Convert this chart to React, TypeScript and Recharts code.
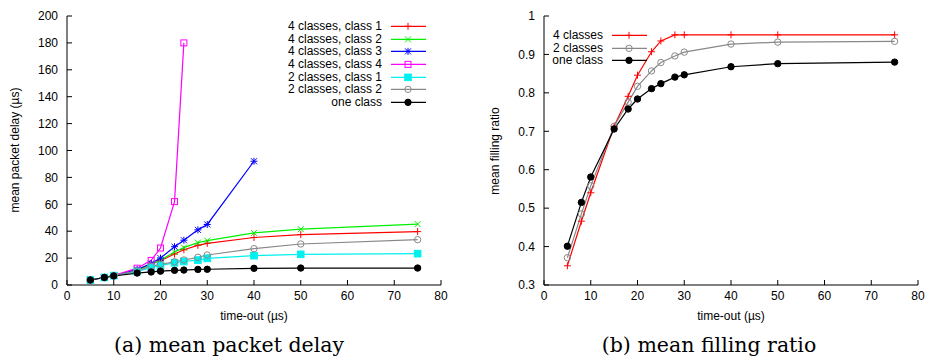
import React from "react";
import { Legend, Line, LineChart, XAxis, YAxis } from "recharts";

const FONT = "'Liberation Sans', Arial, Helvetica, sans-serif";

const timeouts = [5, 8, 10, 15, 18, 20, 23, 25, 28, 30, 40, 50, 75];
const xTicks = [0, 10, 20, 30, 40, 50, 60, 70, 80];
const delayTicks = [0, 20, 40, 60, 80, 100, 120, 140, 160, 180, 200];
const ratioTicks = [0.3, 0.4, 0.5, 0.6, 0.7, 0.8, 0.9, 1];

// mean packet delay (µs)
const delay4c1 = [3.7, 5.6, 7, 11, 15.5, 18, 23, 26.2, 29.5, 31, 35.3, 37.5, 39.7];
const delay4c2 = [3.7, 5.6, 7, 11, 15.5, 18.5, 24.5, 27.8, 31.5, 33, 38.7, 41.5, 45.3];
const delay4c3 = [3.7, 5.6, 7, 11.5, 16, 20, 28.5, 33.3, 41, 45, 92];
const delay4c4 = [3.7, 5.6, 7, 12.5, 18.3, 27.5, 62, 180];
const delay2c1 = [3.7, 5.6, 7, 10, 13, 14.5, 16.5, 17.5, 18.5, 19.8, 21.8, 22.8, 23.3];
const delay2c2 = [3.7, 5.6, 7, 10.5, 14, 15.4, 17.3, 18.6, 20.6, 22.3, 27, 30.5, 33.7];
const delay1 = [3.7, 5.6, 6.7, 8.9, 9.7, 10.3, 10.9, 11.1, 11.6, 11.7, 12.4, 12.6, 12.6];

// mean filling ratio
const ratio4 = [0.35, 0.466, 0.54, 0.713, 0.791, 0.846, 0.907, 0.935, 0.951, 0.951, 0.951, 0.951, 0.951];
const ratio2 = [0.371, 0.485, 0.558, 0.713, 0.776, 0.817, 0.857, 0.879, 0.896, 0.906, 0.927, 0.932, 0.934];
const ratio1 = [0.401, 0.515, 0.581, 0.706, 0.758, 0.784, 0.811, 0.824, 0.841, 0.847, 0.868, 0.876, 0.88];

type MarkerKind = "plus" | "cross" | "star" | "square" | "fsquare" | "circle" | "fcircle";
type Series = { key: string; name: string; color: string; marker: MarkerKind; values: number[] };

const delaySeries: Series[] = [
  { key: "c41", name: "4 classes, class 1", color: "#ff0000", marker: "plus", values: delay4c1 },
  { key: "c42", name: "4 classes, class 2", color: "#00f000", marker: "cross", values: delay4c2 },
  { key: "c43", name: "4 classes, class 3", color: "#0000ff", marker: "star", values: delay4c3 },
  { key: "c44", name: "4 classes, class 4", color: "#ff00ff", marker: "square", values: delay4c4 },
  { key: "c21", name: "2 classes, class 1", color: "#00f0f0", marker: "fsquare", values: delay2c1 },
  { key: "c22", name: "2 classes, class 2", color: "#888888", marker: "circle", values: delay2c2 },
  { key: "c1", name: "one class", color: "#000000", marker: "fcircle", values: delay1 },
];

const ratioSeries: Series[] = [
  { key: "r4", name: "4 classes", color: "#ff0000", marker: "plus", values: ratio4 },
  { key: "r2", name: "2 classes", color: "#888888", marker: "circle", values: ratio2 },
  { key: "r1", name: "one class", color: "#000000", marker: "fcircle", values: ratio1 },
];

function toRows(series: Series[]) {
  return timeouts.map((t, i) => {
    const row: Record<string, number | null> = { t };
    for (const s of series) row[s.key] = s.values[i] ?? null;
    return row;
  });
}

const delayRows = toRows(delaySeries);
const ratioRows = toRows(ratioSeries);

function Marker({ kind, cx, cy, color }: { kind: MarkerKind; cx: number; cy: number; color: string }) {
  const sw = 1;
  switch (kind) {
    case "plus":
      return (
        <g stroke={color} strokeWidth={sw}>
          <line x1={cx - 3.5} x2={cx + 3.5} y1={cy} y2={cy} />
          <line x1={cx} x2={cx} y1={cy - 3.5} y2={cy + 3.5} />
        </g>
      );
    case "cross":
      return (
        <g stroke={color} strokeWidth={sw}>
          <line x1={cx - 3} x2={cx + 3} y1={cy - 3} y2={cy + 3} />
          <line x1={cx - 3} x2={cx + 3} y1={cy + 3} y2={cy - 3} />
        </g>
      );
    case "star":
      return (
        <g stroke={color} strokeWidth={sw}>
          <line x1={cx - 3.5} x2={cx + 3.5} y1={cy} y2={cy} />
          <line x1={cx} x2={cx} y1={cy - 3.5} y2={cy + 3.5} />
          <line x1={cx - 3} x2={cx + 3} y1={cy - 3} y2={cy + 3} />
          <line x1={cx - 3} x2={cx + 3} y1={cy + 3} y2={cy - 3} />
        </g>
      );
    case "square":
      return <rect x={cx - 3} y={cy - 3} width={6} height={6} fill="none" stroke={color} strokeWidth={sw} />;
    case "fsquare":
      return <rect x={cx - 3.3} y={cy - 3.3} width={6.6} height={6.6} fill={color} stroke={color} strokeWidth={sw} />;
    case "circle":
      return <circle cx={cx} cy={cy} r={3.2} fill="none" stroke={color} strokeWidth={sw} />;
    default:
      return <circle cx={cx} cy={cy} r={3.2} fill={color} stroke={color} strokeWidth={sw} />;
  }
}

function dotFor(s: Series) {
  return (props: any) => {
    const { cx, cy, value, index } = props;
    if (cx == null || cy == null || value == null || Number.isNaN(cy)) return <g key={`${s.key}-${index}`} />;
    return (
      <g key={`${s.key}-${index}`}>
        <Marker kind={s.marker} cx={cx} cy={cy} color={s.color} />
      </g>
    );
  };
}

// legend rows follow the plot order of the series, not the alphabetical payload order
function KeyBox({ series, textWidth }: { series: Series[]; textWidth: number }) {
  const rowH = 12.7;
  return (
    <div style={{ fontFamily: FONT, fontSize: 12, color: "#000" }}>
      {series.map((s) => (
        <div key={s.key} style={{ display: "flex", height: rowH, alignItems: "center" }}>
          <span style={{ width: textWidth, textAlign: "right", lineHeight: `${rowH}px`, whiteSpace: "nowrap" }}>
            {s.name}
          </span>
          <svg width={45} height={rowH} style={{ display: "block" }}>
            <line x1={9} x2={44} y1={rowH / 2} y2={rowH / 2} stroke={s.color} strokeWidth={1.2} />
            <Marker kind={s.marker} cx={26} cy={rowH / 2} color={s.color} />
          </svg>
        </div>
      ))}
    </div>
  );
}

const tickStyle = { fontSize: 12, fontFamily: FONT, fill: "#000" };
const blank = () => "";

function DelayChart() {
  return (
    <LineChart width={470} height={310} data={delayRows} margin={{ top: 16, right: 29, bottom: 0, left: 0 }}>
      <XAxis dataKey="t" type="number" domain={[0, 80]} ticks={xTicks} interval={0} height={25}
        tickSize={-5} tickMargin={11} tick={tickStyle} stroke="#000" allowDataOverflow />
      <XAxis xAxisId="top" orientation="top" type="number" domain={[0, 80]} ticks={xTicks} interval={0}
        height={0} tickSize={-5} tickFormatter={blank} stroke="#000" allowDataOverflow />
      <YAxis type="number" domain={[0, 200]} ticks={delayTicks} interval={0} width={67}
        tickSize={-5} tickMargin={14} tick={tickStyle} stroke="#000" allowDataOverflow />
      <YAxis yAxisId="r" orientation="right" type="number" domain={[0, 200]} ticks={delayTicks} interval={0}
        width={0} tickSize={-5} tickFormatter={blank} stroke="#000" allowDataOverflow />
      <Legend layout="vertical" align="center" verticalAlign="middle"
        wrapperStyle={{ left: 262, top: 20, width: 170, height: 90 }}
        content={() => <KeyBox series={delaySeries} textWidth={120} />} />
      {delaySeries.map((s) => (
        <Line key={s.key} dataKey={s.key} name={s.name} stroke={s.color} strokeWidth={1.2}
          dot={dotFor(s)} activeDot={false} isAnimationActive={false} connectNulls={false} />
      ))}
    </LineChart>
  );
}

function RatioChart() {
  return (
    <LineChart width={457} height={310} data={ratioRows} margin={{ top: 16, right: 9, bottom: 0, left: 0 }}>
      <XAxis dataKey="t" type="number" domain={[0, 80]} ticks={xTicks} interval={0} height={25}
        tickSize={-5} tickMargin={11} tick={tickStyle} stroke="#000" allowDataOverflow />
      <XAxis xAxisId="top" orientation="top" type="number" domain={[0, 80]} ticks={xTicks} interval={0}
        height={0} tickSize={-5} tickFormatter={blank} stroke="#000" allowDataOverflow />
      <YAxis type="number" domain={[0.3, 1]} ticks={ratioTicks} interval={0} width={74}
        tickSize={-5} tickMargin={14} tick={tickStyle} stroke="#000" allowDataOverflow
        tickFormatter={(v: number) => (v === 1 ? "1" : v.toFixed(1))} />
      <YAxis yAxisId="r" orientation="right" type="number" domain={[0.3, 1]} ticks={ratioTicks} interval={0}
        width={0} tickSize={-5} tickFormatter={blank} stroke="#000" allowDataOverflow />
      <Legend layout="vertical" align="center" verticalAlign="middle"
        wrapperStyle={{ left: 73, top: 29, width: 120, height: 40 }}
        content={() => <KeyBox series={ratioSeries} textWidth={60} />} />
      {ratioSeries.map((s) => (
        <Line key={s.key} dataKey={s.key} name={s.name} stroke={s.color} strokeWidth={1.2}
          dot={dotFor(s)} activeDot={false} isAnimationActive={false} connectNulls={false} />
      ))}
    </LineChart>
  );
}

const labelStyle: React.CSSProperties = {
  position: "absolute",
  fontFamily: FONT,
  fontSize: 12,
  color: "#000",
  textAlign: "center",
  lineHeight: "16px",
  height: 16,
  whiteSpace: "nowrap",
};

const captionStyle: React.CSSProperties = {
  position: "absolute",
  fontFamily: "'DejaVu Serif', 'Liberation Serif', serif",
  fontSize: 20.5,
  lineHeight: "20px",
  color: "#000",
  textAlign: "center",
  width: 300,
  whiteSpace: "nowrap",
};

export default function App() {
  return (
    <div style={{ position: "absolute", left: 0, top: 0, width: 927, height: 356, background: "#fff", overflow: "hidden" }}>
      <div style={{ position: "absolute", left: 0, top: 0 }}>
        <DelayChart />
      </div>
      <div style={{ position: "absolute", left: 470, top: 0 }}>
        <RatioChart />
      </div>
      <div style={{ ...labelStyle, left: 15 - 100, top: 150 - 8, width: 200, transform: "rotate(-90deg)" }}>
        mean packet delay (µs)
      </div>
      <div style={{ ...labelStyle, left: 495 - 100, top: 151 - 8, width: 200, transform: "rotate(-90deg)" }}>
        mean filling ratio
      </div>
      <div style={{ ...labelStyle, left: 254 - 100, top: 316 - 8, width: 200 }}>time-out (µs)</div>
      <div style={{ ...labelStyle, left: 731 - 100, top: 316 - 8, width: 200 }}>time-out (µs)</div>
      <div style={{ ...captionStyle, left: 229 - 150, top: 335 }}>(a) mean packet delay</div>
      <div style={{ ...captionStyle, left: 709 - 150, top: 335 }}>(b) mean filling ratio</div>
    </div>
  );
}
